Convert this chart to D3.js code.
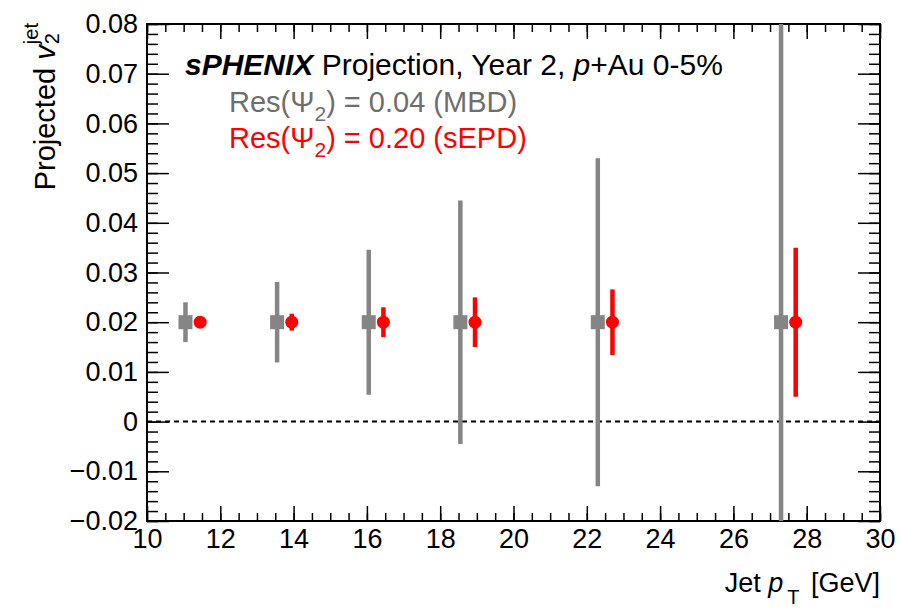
<!DOCTYPE html>
<html>
<head>
<meta charset="utf-8">
<script src="https://cdn.jsdelivr.net/npm/d3@7"></script>
<style>
  body { margin: 0; background: #fff; }
  text { font-family: "Liberation Sans", Arial, sans-serif; }
</style>
</head>
<body>
<div id="chart"></div>
<script>
// Projected jet v2 vs jet pT, two event-plane resolutions
const ptMBD = [11.05, 13.55, 16.05, 18.55, 22.3, 27.3];
const ptSEPD = [11.45, 13.95, 16.45, 18.95, 22.7, 27.7];
const v2MBD = [0.02, 0.02, 0.02, 0.02, 0.02, 0.02];
const v2SEPD = [0.02, 0.02, 0.02, 0.02, 0.02, 0.02];
const errMBD = [0.004, 0.0081, 0.0146, 0.0245, 0.033, 0.075];
const errSEPD = [0.0005, 0.0017, 0.003, 0.005, 0.0066, 0.015];
const xTicks = [10, 12, 14, 16, 18, 20, 22, 24, 26, 28, 30];
const yTicks = [-0.02, -0.01, 0, 0.01, 0.02, 0.03, 0.04, 0.05, 0.06, 0.07, 0.08];

const width = 902, height = 616;
const margin = { top: 24, right: 22, bottom: 95, left: 147 };
const innerWidth = width - margin.left - margin.right;
const innerHeight = height - margin.top - margin.bottom;

const svg = d3.select("#chart")
    .append("svg")
    .attr("width", width)
    .attr("height", height)
    .style("background-color", "#fff");

const x = d3.scaleLinear().domain([10, 30]).range([0, innerWidth]);
const y = d3.scaleLinear().domain([-0.02, 0.08]).range([innerHeight, 0]);

const g = svg.append("g").attr("transform", `translate(${margin.left},${margin.top})`);

svg.append("defs").append("clipPath").attr("id", "clip")
    .append("rect").attr("width", innerWidth).attr("height", innerHeight);

// minor ticks (inward, all four sides)
const xMinor = d3.range(10, 30.01, 0.5);
const yMinor = d3.range(-0.02, 0.0801, 0.002);
const fmtY = d => d === 0 ? "0" : d3.format(".2f")(d);

function styleAxis(sel) {
    sel.select(".domain").remove();
    sel.selectAll("line").attr("stroke", "#000").attr("stroke-width", 1.5);
}
function noLabels(sel) {
    sel.selectAll("text").remove();
}

g.append("g").attr("transform", `translate(0,${innerHeight})`)
    .call(d3.axisBottom(x).tickValues(xMinor).tickSize(-8))
    .call(styleAxis).call(noLabels);
g.append("g")
    .call(d3.axisTop(x).tickValues(xMinor).tickSize(-8))
    .call(styleAxis).call(noLabels);
g.append("g")
    .call(d3.axisLeft(y).tickValues(yMinor).tickSize(-11))
    .call(styleAxis).call(noLabels);
g.append("g").attr("transform", `translate(${innerWidth},0)`)
    .call(d3.axisRight(y).tickValues(yMinor).tickSize(-11))
    .call(styleAxis).call(noLabels);

// major ticks with labels
const xAxis = g.append("g").attr("transform", `translate(0,${innerHeight})`)
    .call(d3.axisBottom(x).tickValues(xTicks).tickSize(-15).tickPadding(8).tickFormat(d3.format("d")))
    .call(styleAxis);
xAxis.selectAll("text").style("font-size", "27px").attr("fill", "#000");

g.append("g")
    .call(d3.axisTop(x).tickValues(xTicks).tickSize(-15))
    .call(styleAxis).call(noLabels);

const yAxis = g.append("g")
    .call(d3.axisLeft(y).tickValues(yTicks).tickSize(-22).tickPadding(9).tickFormat(fmtY))
    .call(styleAxis);
yAxis.selectAll("text").style("font-size", "27px").attr("fill", "#000");

g.append("g").attr("transform", `translate(${innerWidth},0)`)
    .call(d3.axisRight(y).tickValues(yTicks).tickSize(-22))
    .call(styleAxis).call(noLabels);

// frame
g.append("rect")
    .attr("width", innerWidth).attr("height", innerHeight)
    .attr("fill", "none").attr("stroke", "#000").attr("stroke-width", 2);

// zero line
g.append("line")
    .attr("x1", 0).attr("x2", innerWidth)
    .attr("y1", y(0)).attr("y2", y(0))
    .attr("stroke", "#000").attr("stroke-width", 2)
    .attr("stroke-dasharray", "5,4");

const plot = g.append("g").attr("clip-path", "url(#clip)");

const mbd = ptMBD.map((p, i) => ({ x: p, y: v2MBD[i], e: errMBD[i] }));
const sepd = ptSEPD.map((p, i) => ({ x: p, y: v2SEPD[i], e: errSEPD[i] }));

// MBD: gray bars + squares
plot.selectAll(".errMBD").data(mbd).enter().append("line")
    .attr("x1", d => x(d.x)).attr("x2", d => x(d.x))
    .attr("y1", d => y(d.y - d.e)).attr("y2", d => y(d.y + d.e))
    .attr("stroke", "#858585").attr("stroke-width", 4.5);
plot.selectAll(".ptMBD").data(mbd).enter().append("rect")
    .attr("x", d => x(d.x) - 7).attr("y", d => y(d.y) - 7)
    .attr("width", 14).attr("height", 14)
    .attr("fill", "#858585");

// sEPD: red bars + circles
plot.selectAll(".errSEPD").data(sepd).enter().append("line")
    .attr("x1", d => x(d.x)).attr("x2", d => x(d.x))
    .attr("y1", d => y(d.y - d.e)).attr("y2", d => y(d.y + d.e))
    .attr("stroke", "#ff0000").attr("stroke-width", 4.5);
plot.selectAll(".ptSEPD").data(sepd).enter().append("circle")
    .attr("cx", d => x(d.x)).attr("cy", d => y(d.y))
    .attr("r", 6.5)
    .attr("fill", "#ff0000");

// header text
const t1 = svg.append("text").attr("x", 185).attr("y", 75).style("font-size", "30px").attr("fill", "#000");
t1.append("tspan").style("font-weight", "bold").style("font-style", "italic").text("sPHENIX");
t1.append("tspan").text(" Projection, Year 2, ");
t1.append("tspan").style("font-style", "italic").text("p");
t1.append("tspan").text("+Au 0-5%");

function resLine(yPos, color, label) {
    const t = svg.append("text").attr("x", 229).attr("y", yPos).style("font-size", "29px").attr("fill", color);
    t.append("tspan").text("Res(Ψ");
    t.append("tspan").attr("dy", 9).style("font-size", "21px").text("2");
    t.append("tspan").attr("dy", -9).text(label);
}
resLine(112, "#6e6e6e", ") = 0.04 (MBD)");
resLine(148, "#ff0000", ") = 0.20 (sEPD)");

// axis titles
const xt = svg.append("text").attr("x", 880).attr("y", 592)
    .attr("text-anchor", "end").style("font-size", "27px").attr("fill", "#000");
xt.append("tspan").text("Jet ");
xt.append("tspan").style("font-style", "italic").text("p");
xt.append("tspan").attr("dy", 12).attr("dx", 4).style("font-size", "20px").text("T");
xt.append("tspan").attr("dy", -12).attr("dx", 4).text(" [GeV]");

const yt = svg.append("text")
    .attr("transform", "translate(55,23) rotate(-90)")
    .attr("text-anchor", "end").style("font-size", "29px").attr("fill", "#000");
yt.append("tspan").text("Projected ");
yt.append("tspan").style("font-style", "italic").text("v");
yt.append("tspan").attr("dy", 4).attr("dx", 1).style("font-size", "20px").text("2");
yt.append("tspan").attr("dy", -21).attr("dx", -11).style("font-size", "20px").text("jet");
</script>
</body>
</html>
